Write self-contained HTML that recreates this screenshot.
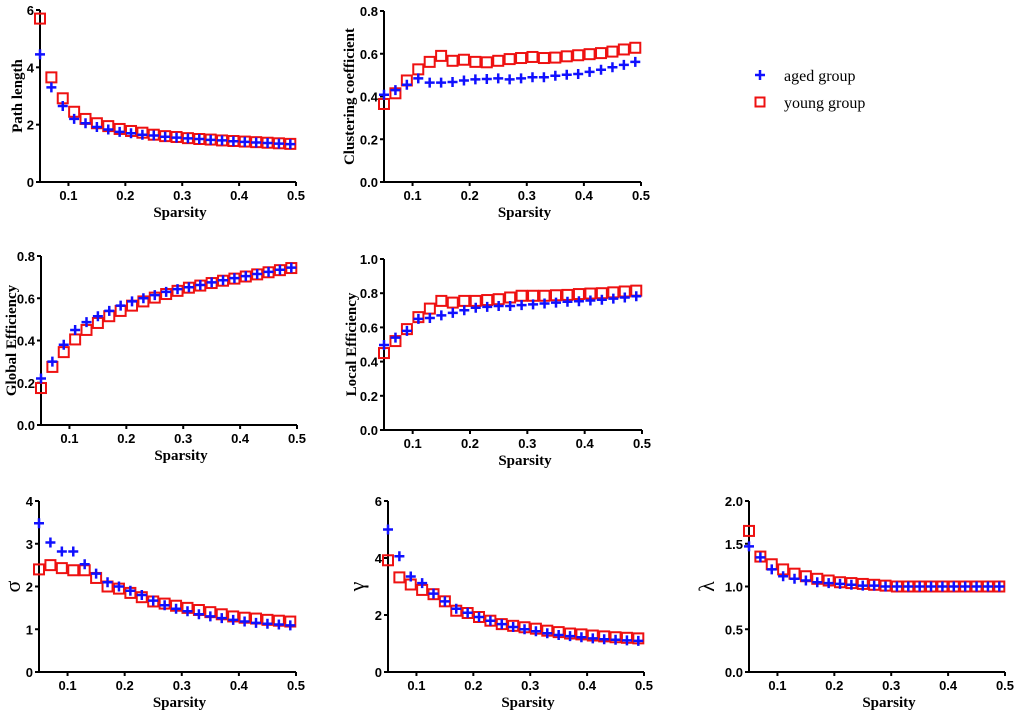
<!DOCTYPE html>
<html><head><meta charset="utf-8"><style>
body{margin:0;background:#fff;width:1020px;height:717px;overflow:hidden}
</style></head><body>
<svg id="fig" width="1020" height="717" viewBox="0 0 1020 717" xmlns="http://www.w3.org/2000/svg">
<g>
<g><path d="M755 75h10M760 70v10" stroke="#1010ff" stroke-width="2.5"/><text x="784" y="81" font-family="Liberation Serif, serif" font-size="16">aged group</text></g>
<g><rect x="755.5" y="97.5" width="9" height="9" fill="none" stroke="#ee1111" stroke-width="2"/><text x="784" y="108" font-family="Liberation Serif, serif" font-size="16">young group</text></g>
</g>
</svg>
<script>
const sparsity=[0.05,0.07,0.09,0.11,0.13,0.15,0.17,0.19,0.21,0.23,0.25,0.27,0.29,0.31,0.33,0.35,0.37,0.39,0.41,0.43,0.45,0.47,0.49];
const xTicks=[0.1,0.2,0.3,0.4,0.5];
const pathAged=[4.45,3.3,2.65,2.2,2.05,1.92,1.83,1.75,1.7,1.65,1.62,1.58,1.55,1.52,1.5,1.47,1.45,1.42,1.4,1.38,1.36,1.34,1.32];
const pathYoung=[5.7,3.65,2.92,2.45,2.2,2.05,1.95,1.85,1.78,1.72,1.65,1.6,1.57,1.53,1.5,1.48,1.45,1.43,1.41,1.39,1.37,1.35,1.33];
const pathTicks=[0,2,4,6];
const clustAged=[0.408,0.43,0.455,0.485,0.465,0.465,0.468,0.475,0.48,0.482,0.485,0.48,0.485,0.49,0.49,0.497,0.502,0.505,0.515,0.525,0.537,0.548,0.562];
const clustYoung=[0.365,0.415,0.475,0.527,0.562,0.59,0.567,0.572,0.562,0.56,0.567,0.575,0.58,0.585,0.58,0.582,0.588,0.593,0.598,0.603,0.61,0.62,0.628];
const clustTicks=["0.0","0.2","0.4","0.6","0.8"];
const globAged=[0.22,0.30,0.38,0.45,0.487,0.515,0.54,0.565,0.585,0.60,0.615,0.63,0.643,0.652,0.663,0.675,0.685,0.695,0.705,0.715,0.725,0.735,0.745];
const globYoung=[0.175,0.275,0.345,0.405,0.45,0.483,0.515,0.54,0.565,0.585,0.603,0.62,0.635,0.65,0.66,0.672,0.683,0.693,0.703,0.713,0.723,0.733,0.743];
const globTicks=["0.0","0.2","0.4","0.6","0.8"];
const locAged=[0.497,0.54,0.58,0.65,0.655,0.67,0.685,0.70,0.715,0.72,0.725,0.725,0.73,0.735,0.74,0.745,0.75,0.753,0.757,0.762,0.768,0.775,0.782];
const locYoung=[0.45,0.52,0.59,0.66,0.71,0.755,0.745,0.755,0.755,0.76,0.765,0.775,0.785,0.785,0.785,0.788,0.79,0.795,0.798,0.80,0.805,0.81,0.815];
const locTicks=["0.0","0.2","0.4","0.6","0.8","1.0"];
const sigAged=[3.48,3.03,2.82,2.82,2.52,2.3,2.1,2.0,1.9,1.8,1.67,1.56,1.48,1.42,1.35,1.3,1.26,1.22,1.18,1.15,1.13,1.11,1.09];
const sigYoung=[2.4,2.5,2.43,2.38,2.38,2.2,2.0,1.95,1.85,1.75,1.65,1.6,1.55,1.5,1.45,1.4,1.35,1.3,1.27,1.25,1.22,1.2,1.18];
const sigTicks=[0,1,2,3,4];
const gamAged=[5.0,4.06,3.35,3.12,2.75,2.48,2.22,2.08,1.93,1.8,1.68,1.58,1.5,1.43,1.36,1.3,1.26,1.22,1.18,1.15,1.13,1.11,1.09];
const gamYoung=[3.92,3.32,3.07,2.88,2.73,2.48,2.15,2.07,1.93,1.8,1.68,1.62,1.57,1.52,1.45,1.4,1.35,1.32,1.28,1.25,1.22,1.2,1.18];
const gamTicks=[0,2,4,6];
const lamAged=[1.47,1.34,1.2,1.12,1.09,1.07,1.05,1.04,1.03,1.02,1.01,1.01,1.0,1.0,1.0,1.0,1.0,1.0,1.0,1.0,1.0,1.0,1.0];
const lamYoung=[1.65,1.35,1.26,1.2,1.15,1.12,1.09,1.07,1.05,1.04,1.03,1.02,1.01,1.0,1.0,1.0,1.0,1.0,1.0,1.0,1.0,1.0,1.0];
const lamTicks=["0.0","0.5","1.0","1.5","2.0"];

const NS="http://www.w3.org/2000/svg";
const SANS="Liberation Sans, Arial, sans-serif";
const SERIF="Liberation Serif, Times New Roman, serif";
const svg=document.getElementById('fig');
function mk(tag,attrs,parent){const e=document.createElementNS(NS,tag);for(const k in attrs)e.setAttribute(k,attrs[k]);parent.appendChild(e);return e;}
function panel(id,x0,x1,yTop,yBot,ticks,aged,young,label,labelX,greek){
  const g=mk('g',{},svg);
  
  
  const yMax=parseFloat(ticks[ticks.length-1]);
  const sx=v=>x0+(v-0.05)/(0.45)*(x1-x0);
  const sy=v=>yBot-(v/yMax)*(yBot-yTop);
  const ax=mk('path',{d:`M${x0} ${yTop}V${yBot}H${x1}`,stroke:'#000','stroke-width':2,fill:'none'},g);
  
  
  ticks.forEach(t=>{const v=parseFloat(t),y=sy(v);
    mk('path',{d:`M${x0-4} ${y}H${x0}`,stroke:'#000','stroke-width':2},g);
    const tx=mk('text',{x:x0-6,y:y+5,'text-anchor':'end','font-size':13,'font-weight':'bold','font-family':SANS},g);
    tx.textContent=t;
    
    });
  xTicks.forEach(t=>{const x=sx(t);
    mk('path',{d:`M${x} ${yBot}V${yBot+4}`,stroke:'#000','stroke-width':2},g);
    const tx=mk('text',{x:x,y:yBot+18,'text-anchor':'middle','font-size':13,'font-weight':'bold','font-family':SANS},g);
    tx.textContent=t.toFixed(1);
    
    });
  const xl=mk('text',{x:(x0+x1)/2+12,y:yBot+35,'text-anchor':'middle','font-size':15,'font-weight':'bold','font-family':SERIF},g);
  xl.textContent='Sparsity';
  
  
  const cy=(yTop+yBot)/2;
  const yl=mk('text',{x:labelX,y:cy,'text-anchor':'middle','font-size':greek?22:15,'font-weight':greek?'normal':'bold','font-family':SERIF,transform:`rotate(-90 ${labelX} ${cy})`},g);
  yl.textContent=label;
  
  
  young.forEach((v,i)=>{const x=sx(sparsity[i]),y=sy(v);
    const r=mk('rect',{x:x-5,y:y-5,width:10,height:10,fill:'none',stroke:'#ee1111','stroke-width':2},g);
    
    });
  aged.forEach((v,i)=>{const x=sx(sparsity[i]),y=sy(v);
    const p=mk('path',{d:`M${x-5} ${y}H${x+5}M${x} ${y-5}V${y+5}`,stroke:'#1010ff','stroke-width':2.5},g);
    
    });
}
panel('path-length',40,296,10,182,pathTicks,pathAged,pathYoung,'Path length',22,false);
panel('clustering',384,641,11,182,clustTicks,clustAged,clustYoung,'Clustering coefficient',354,false);
panel('global-efficiency',41,297,256,425,globTicks,globAged,globYoung,'Global Efficiency',16,false);
panel('local-efficiency',384,642,259,430,locTicks,locAged,locYoung,'Local Efficiency',356,false);
panel('sigma',39,296,501,672,sigTicks,sigAged,sigYoung,'σ',20,true);
panel('gamma',388,644,501,672,gamTicks,gamAged,gamYoung,'γ',364,true);
panel('lambda',749,1005,501,672,lamTicks,lamAged,lamYoung,'λ',714,true);
</script>
</body></html>
